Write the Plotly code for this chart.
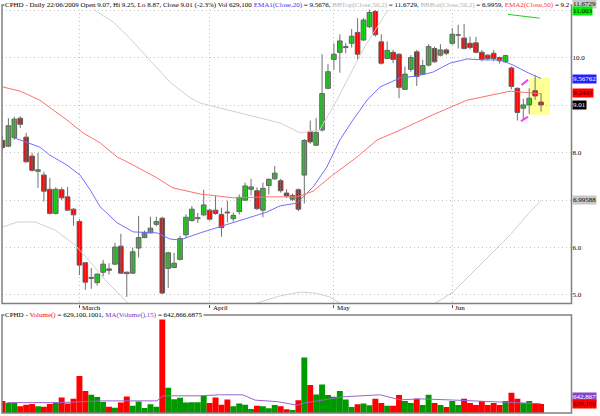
import plotly.graph_objects as go

W, H = 600, 416

# ---------------- data ----------------
opens = [8.26, 8.14, 8.32, 8.73, 8.33, 7.93, 7.61, 7.53, 7.23, 6.72,
         7.22, 7.07, 6.81, 6.55, 5.68, 5.35, 5.26, 5.48, 5.55, 5.65,
         6.03, 5.48, 5.46, 5.99, 6.21, 6.31, 6.49, 6.62, 5.56, 5.58,
         5.75, 6.27, 6.57, 6.61, 6.69, 6.79, 6.79, 6.70, 6.75, 6.61,
         6.76, 7.00, 7.23, 7.20, 6.79, 7.31, 7.45, 7.41, 7.15, 7.02,
         7.22, 7.53, 8.45, 8.16, 8.48, 9.36, 9.97, 10.12, 10.22, 10.31,
         10.54, 10.38, 10.66, 10.98, 10.34, 9.99, 10.12, 10.08, 9.34, 9.76,
         10.13, 9.66, 9.85, 10.20, 10.06, 10.17, 10.31, 10.48, 10.42, 10.31,
         10.32, 10.12, 10.06, 10.10, 10.01, 9.92, 9.79, 9.36, 8.94, 9.01,
         9.31, 9.07]
highs = [8.35, 8.73, 8.76, 8.77, 8.42, 8.00, 8.00, 7.60, 7.47, 7.27,
         7.27, 7.28, 6.83, 6.60, 5.69, 5.57, 5.45, 5.74, 5.67, 6.10,
         6.29, 5.50, 6.00, 6.67, 6.36, 6.65, 6.65, 6.65, 5.91, 5.89,
         6.25, 6.70, 6.88, 6.73, 7.22, 6.82, 7.09, 6.84, 6.99, 6.74,
         7.12, 7.37, 7.45, 7.27, 7.37, 7.46, 7.72, 7.45, 7.23, 7.14,
         7.25, 8.29, 8.68, 8.73, 10.08, 9.87, 10.31, 10.50, 10.32, 10.61,
         10.84, 10.84, 11.03, 11.01, 10.50, 10.35, 10.17, 10.10, 9.82, 10.06,
         10.17, 9.96, 10.29, 10.24, 10.29, 10.20, 10.63, 10.70, 10.72, 10.45,
         10.45, 10.17, 10.08, 10.17, 10.03, 10.07, 9.82, 9.38, 9.14, 9.36,
         9.64, 9.25]
lows = [8.05, 8.12, 8.27, 8.52, 7.79, 7.60, 7.26, 6.97, 6.70, 6.70,
        7.00, 6.77, 6.46, 5.42, 5.11, 5.13, 5.20, 5.39, 5.43, 5.64,
        5.45, 4.96, 5.45, 5.79, 6.20, 6.30, 6.45, 5.02, 5.15, 5.57,
        5.73, 6.20, 6.55, 6.52, 6.66, 6.57, 6.69, 6.23, 6.53, 6.55,
        6.70, 7.00, 7.10, 6.79, 6.64, 7.12, 7.43, 7.16, 7.05, 6.98,
        6.77, 6.93, 8.19, 8.14, 8.45, 9.34, 9.75, 9.69, 10.10, 10.22,
        9.97, 10.36, 10.63, 10.45, 9.86, 9.97, 9.89, 9.15, 9.33, 9.71,
        9.41, 9.64, 9.82, 9.90, 10.03, 10.06, 10.28, 10.20, 10.18, 10.18,
        10.10, 9.93, 9.95, 9.93, 9.88, 9.90, 9.34, 8.68, 8.71, 8.82,
        9.12, 8.87]
closes = [8.11, 8.57, 8.71, 8.60, 7.81, 7.63, 7.64, 7.19, 6.72, 7.23,
          7.05, 6.79, 6.69, 5.63, 5.27, 5.37, 5.44, 5.65, 5.52, 6.01,
          5.46, 5.45, 5.91, 6.21, 6.32, 6.41, 6.55, 5.04, 5.89, 5.67,
          6.19, 6.64, 6.81, 6.63, 6.90, 6.60, 6.72, 6.42, 6.73, 6.68,
          7.06, 7.30, 7.28, 6.82, 7.25, 7.44, 7.57, 7.20, 7.09, 7.10,
          6.81, 8.26, 8.23, 8.43, 9.25, 9.71, 10.08, 10.36, 10.24, 10.46,
          10.08, 10.80, 10.96, 10.49, 9.89, 10.16, 9.97, 9.38, 9.66, 10.01,
          9.61, 9.84, 10.24, 9.92, 10.17, 10.10, 10.50, 10.49, 10.20, 10.22,
          10.12, 9.97, 9.99, 9.99, 9.94, 10.05, 9.40, 8.85, 9.01, 9.15,
          9.20, 9.01]
# volume, thousands of shares
volumes = [840, 700, 700, 470, 580, 630, 470, 440, 630, 750,
           1070, 650, 980, 2570, 1520, 1260, 1100, 770, 440, 370,
           720, 1140, 510, 790, 350, 610, 440, 6580, 1750, 960,
           1050, 720, 750, 750, 1190, 700, 1070, 580, 930, 470,
           650, 580, 280, 510, 470, 330, 560, 470, 260, 210,
           890, 3850, 1940, 1280, 1980, 1240, 1120, 1520, 930, 420,
           610, 650, 540, 980, 700, 510, 510, 1240, 840, 700,
           980, 560, 1260, 700, 560, 420, 840, 560, 980, 700,
           560, 840, 560, 700, 560, 840, 1400, 980, 700, 840,
           700, 629.1]

# indicator lines: (bar index, value) pairs
ema20_x = [2.1, 6.3, 8.0, 10.9, 13.1, 14.8, 16.5, 19.4, 22.1, 26.1, 28.3, 30.0, 33.4,
           39.0, 42.3, 44.7, 46.9, 49.8, 50.8, 52.5, 54.8, 57.0, 59.2, 61.6, 63.8,
           67.2, 70.0, 72.7, 75.6, 78.5, 81.2, 84.1, 86.3, 88.6, 91]
ema20_y = [8.31, 8.12, 7.95, 7.74, 7.53, 7.22, 6.86, 6.52, 6.33, 6.31, 6.18, 6.16, 6.31,
           6.52, 6.65, 6.75, 6.88, 6.94, 7.07, 7.28, 7.70, 8.27, 8.69, 9.11, 9.39,
           9.58, 9.62, 9.70, 9.89, 9.98, 9.96, 9.96, 9.85, 9.70, 9.5676]
ema50_x = [0.0, 3.0, 6.3, 10.9, 13.6, 16.5, 19.4, 22.1, 26.1, 28.8, 33.4, 39.0, 44.7,
           49.8, 52.5, 55.8, 59.9, 63.3, 67.2, 72.7, 78.5, 82.4, 85.8, 91]
ema50_y = [9.39, 9.30, 9.11, 8.69, 8.42, 8.21, 7.91, 7.74, 7.47, 7.26, 7.13, 7.05, 7.07,
           7.07, 7.19, 7.53, 7.91, 8.27, 8.48, 8.80, 9.11, 9.22, 9.30, 9.2443]
bbtop_x = [0, 10, 16.0, 18.7, 21.5, 24.9, 28.3, 31.7, 33.4, 40.1, 46.9, 50.3, 53.6,
           56.5, 60.9, 64.6, 67.2, 75, 91]
bbtop_y = [12.2, 11.6, 10.97, 10.76, 10.42, 9.96, 9.49, 9.16, 9.05, 8.84, 8.63, 8.42, 8.48,
           9.11, 10.17, 10.91, 11.33, 11.6, 11.6729]
bbbot_x = [0, 2.5, 5.5, 8.9, 12.3, 14.8, 17.3, 19.4, 21.5, 30, 38.4, 43.0, 46.9, 50.3,
           52.8, 55.3, 57.5, 65.5, 72.7, 76.1, 79.0, 82.4, 85.8, 89.1, 91]
bbbot_y = [6.43, 6.54, 6.54, 6.37, 6.05, 5.70, 5.32, 5.06, 4.79, 4.47, 4.58, 4.83, 4.98, 5.06,
           5.04, 4.96, 4.79, 4.26, 4.79, 5.06, 5.42, 5.84, 6.27, 6.75, 6.9959]
green_x = [85.4, 88.0, 90.8]
green_y = [10.92, 10.88, 10.84]
volma_x = [0.8, 8.5, 9.7, 16.5, 26.1, 27.1, 33.4, 36.7, 40.6, 42.7, 46.4, 49.8, 51.1,
           57.5, 63.8, 67.2, 70.5, 76.0, 80.7, 86.0, 91]
volma_y = [720, 680, 720, 840, 840, 1190, 1190, 1260, 1260, 890, 790, 540, 700,
           1120, 1260, 910, 980, 900, 820, 700, 642.9]

month_idx = [13, 35, 56, 76]
month_lbl = ["March", "April", "May", "Jun"]
price_ticks = [5, 6, 7, 8, 9, 10, 11]
price_tick_text = ["5.0", "6.0", "", "8.0", "", "10.0", ""]

# ---------------- figure ----------------
def px_x(p):
    return p / W

def px_y(p):
    return 1 - p / H

GREEN = "#16d816"
RED = "#ff0000"
idx = list(range(len(opens)))
col = [GREEN if c >= o else RED for o, c in zip(opens, closes)]

fig = go.Figure()

wx, wy = [], []
for i in idx:
    wx += [i, i, None]
    wy += [lows[i], highs[i], None]
fig.add_trace(go.Scatter(x=wx, y=wy, mode="lines", line=dict(color="#707070", width=1),
                         hoverinfo="skip", showlegend=False))

for xs, ys, c in [(ema20_x, ema20_y, "#7070ff"), (ema50_x, ema50_y, "#ff7070"),
                  (bbtop_x, bbtop_y, "#d0d0d0"), (bbbot_x, bbbot_y, "#d0d0d0"),
                  (green_x, green_y, "#22cc22")]:
    fig.add_trace(go.Scatter(x=xs, y=ys, mode="lines", line=dict(color=c, width=1),
                             showlegend=False))

fig.add_trace(go.Bar(x=idx, y=[abs(c - o) for o, c in zip(opens, closes)],
                     base=[min(o, c) for o, c in zip(opens, closes)],
                     width=0.78, marker=dict(color=col, line=dict(color="#606060", width=1)),
                     showlegend=False))

fig.add_trace(go.Bar(x=idx, y=volumes, width=1.0,
                     marker=dict(color=[("#009900" if c == GREEN else RED) for c in col], line=dict(width=0)),
                     xaxis="x2", yaxis="y2", showlegend=False))
fig.add_trace(go.Scatter(x=volma_x, y=volma_y, mode="lines", line=dict(color="#9966cc", width=1),
                         xaxis="x2", yaxis="y2", showlegend=False))

xr = [(2 - 2.5) / 5.918, (571.5 - 2.5) / 5.918]
font = "Liberation Serif"
FS = 7
fig.update_layout(
    width=W, height=H, margin=dict(l=0, r=0, t=0, b=0),
    paper_bgcolor="white", plot_bgcolor="white", barmode="overlay",
    font=dict(family=font, size=FS, color="black"),
    xaxis=dict(domain=[px_x(2), px_x(571.5)], range=xr, tickvals=month_idx, showticklabels=False,
               showgrid=True, gridcolor="#c4c4c4", griddash="1px,3px", gridwidth=1,
               ticks="outside", ticklen=3, tickcolor="#555", zeroline=False, anchor="y"),
    yaxis=dict(domain=[px_y(303.5), px_y(5)], range=[4.82, 11.118], side="right",
               tickvals=price_ticks, ticktext=price_tick_text, showgrid=True,
               gridcolor="#c4c4c4", griddash="1px,3px", zeroline=False, ticks="",
               tickfont=dict(family=font, size=FS, color="black")),
    xaxis2=dict(domain=[px_x(2), px_x(571.5)], range=xr, showticklabels=False, showgrid=False,
                zeroline=False, anchor="y2"),
    yaxis2=dict(domain=[px_y(413), px_y(315)], range=[0, 6790], showticklabels=False,
                showgrid=False, zeroline=False),
)

shapes = []
line_c = dict(color="#808080", width=1.5)
for top, bot in [(5, 303.5), (315, 413)]:
    shapes.append(dict(type="rect", xref="paper", yref="paper", x0=px_x(2), x1=px_x(571.5),
                       y0=px_y(bot), y1=px_y(top), line=line_c, layer="above"))
shapes.append(dict(type="rect", xref="x", yref="y", x0=89.0, x1=92.5, y0=8.80, y1=9.58,
                   fillcolor="#ffff80", line=dict(width=0), opacity=0.85, layer="below"))
shapes.append(dict(type="line", xref="x", yref="y", x0=87.7, x1=88.8, y0=9.43, y1=9.54,
                   line=dict(color="#ff33ff", width=2, dash="dash")))
shapes.append(dict(type="line", xref="x", yref="y", x0=87.6, x1=88.8, y0=8.67, y1=8.76,
                   line=dict(color="#ff33ff", width=2, dash="dash")))
fig.update_layout(shapes=shapes)

ann = []
title = ("CPHD - Daily 22/06/2009 Open 9.07, Hi 9.25, Lo 8.87, Close 9.01 (-2.3%) Vol 629,100 "
         "<span style='color:#3333ff'>EMA1(Close,20)</span> = 9.5676, "
         "<span style='color:#b0b0b0'>BBTop(Close,50,2)</span> = 11.6729, "
         "<span style='color:#b0b0b0'>BBBot(Close,50,2)</span> = 6.9959, "
         "<span style='color:#ff3333'>EMA2(Close,50)</span> = 9.2")
ann.append(dict(xref="paper", yref="paper", x=px_x(4), y=px_y(5), xanchor="left", yanchor="middle",
                text=title, showarrow=False, bgcolor="white", borderpad=0,
                font=dict(family=font, size=FS, color="black")))
vtitle = ("CPHD - <span style='color:#ff0000'>Volume()</span> = 629,100.1001, "
          "<span style='color:#7733cc'>MA(Volume(),15)</span> = 642,866.6875")
ann.append(dict(xref="paper", yref="paper", x=px_x(4), y=px_y(314.5), xanchor="left", yanchor="middle",
                text=vtitle, showarrow=False, bgcolor="white", borderpad=0,
                font=dict(family=font, size=FS, color="black")))
for i, m in zip(month_idx, month_lbl):
    ann.append(dict(xref="x", yref="paper", x=i + 0.15, y=px_y(308), xanchor="left", yanchor="middle",
                    text=m, showarrow=False, font=dict(family=font, size=FS, color="black")))

badges = [("11.6729", 4, "#c8c8c8", "black"), ("11.003", 11, "#00ee00", "black"),
          ("9.56762", 79, "#2222ff", "white"), ("9.2443", 93, "#ff0000", "#440000"),
          ("9.01", 105, "#000000", "white"), ("6.99588", 200, "#c8c8c8", "black"),
          ("642,867", 397, "#8844cc", "white"), ("629,100", 404, "#ff0000", "#440000")]
for t, yy, bg, fc in badges:
    ann.append(dict(xref="paper", yref="paper", x=px_x(572), y=px_y(yy), xanchor="left",
                    yanchor="middle", text=t, showarrow=False, bgcolor=bg, borderpad=0,
                    font=dict(family=font, size=FS, color=fc)))
fig.update_layout(annotations=ann)

fig.write_html("out.html", config={"displayModeBar": False},
               post_script="document.body.style.margin='0';document.body.style.overflow='hidden';")
